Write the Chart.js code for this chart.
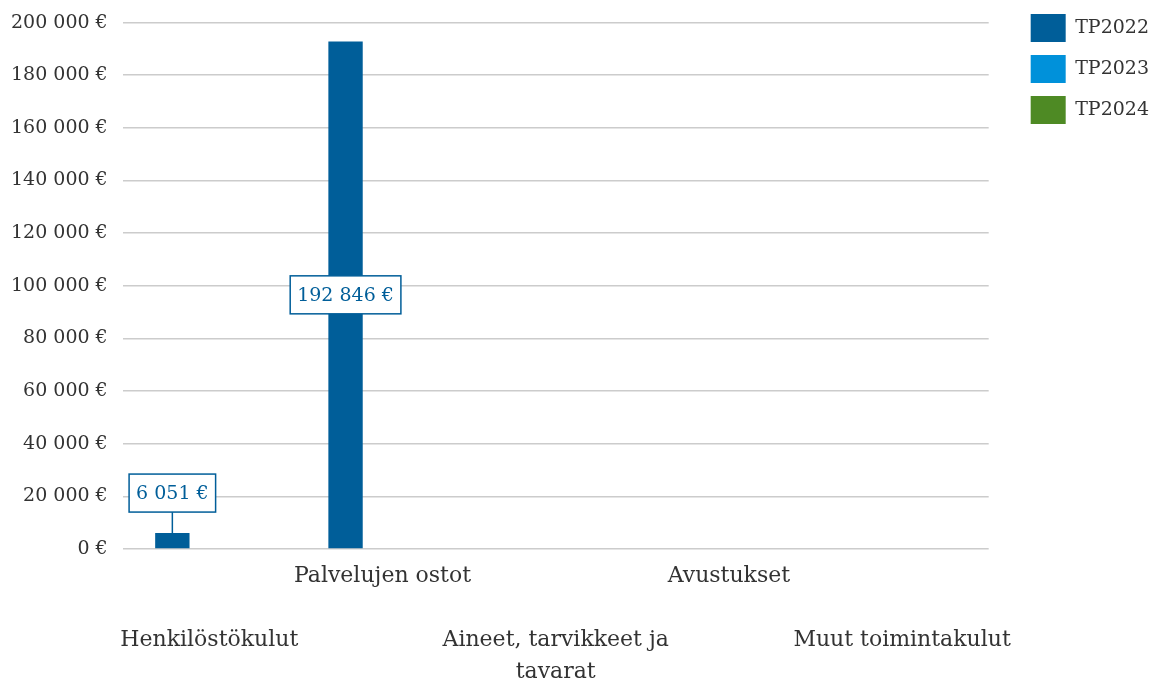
<!DOCTYPE html>
<html>
<head>
<meta charset="utf-8">
<script src="https://cdn.jsdelivr.net/npm/chart.js@4.4.1/dist/chart.umd.min.js"></script>
<style>
  html, body { margin: 0; padding: 0; background: #fff; }
  #wrap { width: 1157px; height: 689px; }
</style>
</head>
<body>
<div id="wrap"><canvas id="chart"></canvas></div>
<script>
// data
const categories = ['Henkilöstökulut', 'Palvelujen ostot', 'Aineet, tarvikkeet ja tavarat', 'Avustukset', 'Muut toimintakulut'];
const seriesNames = ['TP2022', 'TP2023', 'TP2024'];
const tp2022 = [6051, 192846, 0, 0, 0];
const tp2023 = [0, 0, 0, 0, 0];
const tp2024 = [0, 0, 0, 0, 0];
const yMax = 200000;
const yStep = 20000;

const colors = ['#005e99', '#0091da', '#4e8a24'];
const fontFamily = '"DejaVu Serif", serif';
const textColor = '#333333';

function euro(v) {
  return String(v).replace(/\B(?=(\d{3})+(?!\d))/g, ' ') + ' €';
}

// wrap long names, then push every other label down two rows
function wrap(str, max) {
  const words = str.split(' ');
  const lines = [];
  let cur = '';
  words.forEach(w => {
    if (cur && (cur + ' ' + w).length > max) {
      lines.push(cur);
      cur = w;
    } else {
      cur = cur ? cur + ' ' + w : w;
    }
  });
  if (cur) lines.push(cur);
  return lines;
}
const xLabels = categories.map((c, i) => {
  const lines = wrap(c, 21);
  return i % 2 === 0 ? ['', ''].concat(lines) : lines;
});

const valueLabels = {
  id: 'valueLabels',
  afterDatasetsDraw(chart) {
    const ctx = chart.ctx;
    chart.data.datasets.forEach((ds, di) => {
      const meta = chart.getDatasetMeta(di);
      if (meta.hidden) return;
      meta.data.forEach((bar, i) => {
        const v = ds.data[i];
        if (!v) return;
        const text = euro(v);
        ctx.save();
        ctx.font = '19px ' + fontFamily;
        const w = ctx.measureText(text).width + 14;
        const h = 38;
        const barH = bar.base - bar.y;
        let cy;
        ctx.strokeStyle = ds.backgroundColor;
        ctx.lineWidth = 1.5;
        if (barH > h + 20) {
          cy = (bar.y + bar.base) / 2;
        } else {
          cy = bar.y - 21 - h / 2;
          ctx.beginPath();
          ctx.moveTo(bar.x, bar.y);
          ctx.lineTo(bar.x, cy + h / 2);
          ctx.stroke();
        }
        ctx.fillStyle = '#fff';
        ctx.fillRect(bar.x - w / 2, cy - h / 2, w, h);
        ctx.strokeRect(bar.x - w / 2, cy - h / 2, w, h);
        ctx.fillStyle = ds.backgroundColor;
        ctx.textAlign = 'center';
        ctx.textBaseline = 'middle';
        ctx.fillText(text, bar.x, cy + 1);
        ctx.restore();
      });
    });
  }
};

// legend sits a bit apart from the plot and higher up
const legendShift = {
  id: 'legendShift',
  beforeInit(chart) {
    const lg = chart.legend;
    const fit = lg.fit;
    lg.fit = function () {
      fit.call(this);
      this.width += 23;
    };
  },
  afterLayout(chart) {
    chart.legend.left += 29;
    chart.legend.top -= 3;
  }
};

new Chart(document.getElementById('chart'), {
  type: 'bar',
  data: {
    labels: xLabels,
    datasets: [
      { label: seriesNames[0], data: tp2022, backgroundColor: colors[0] },
      { label: seriesNames[1], data: tp2023, backgroundColor: colors[1] },
      { label: seriesNames[2], data: tp2024, backgroundColor: colors[2] }
    ]
  },
  options: {
    responsive: true,
    maintainAspectRatio: false,
    animation: false,
    categoryPercentage: 0.64,
    barPercentage: 0.93,
    layout: { padding: { left: -4, top: 4, right: 4, bottom: -10 } },
    plugins: {
      tooltip: { enabled: false },
      legend: {
        position: 'right',
        align: 'start',
        labels: {
          boxWidth: 35,
          boxHeight: 28,
          padding: 13,
          color: textColor,
          font: { family: fontFamily, size: 19 }
        }
      }
    },
    scales: {
      x: {
        grid: { display: false, drawTicks: false },
        border: { display: false },
        ticks: {
          autoSkip: false,
          maxRotation: 0,
          minRotation: 0,
          padding: 11,
          color: textColor,
          font: { family: fontFamily, size: 22, lineHeight: '32px' }
        }
      },
      y: {
        min: 0,
        max: yMax,
        grid: { color: '#cccccc', lineWidth: 1.5, drawTicks: false },
        border: { display: false },
        ticks: {
          stepSize: yStep,
          padding: 15,
          color: textColor,
          font: { family: fontFamily, size: 19, lineHeight: 0.8 },
          callback: v => euro(v)
        }
      }
    }
  },
  plugins: [valueLabels, legendShift]
});
</script>
</body>
</html>
